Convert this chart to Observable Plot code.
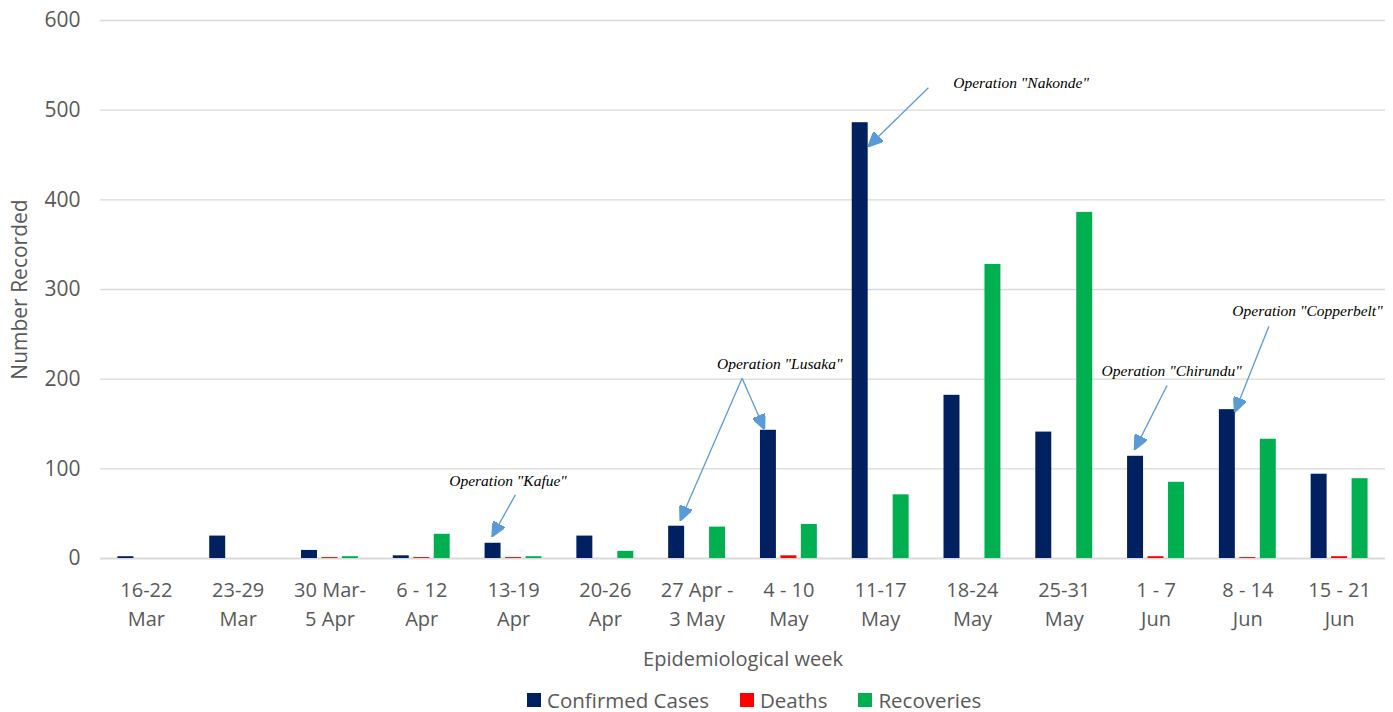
<!DOCTYPE html>
<html>
<head>
<meta charset="utf-8">
<script src="https://cdn.jsdelivr.net/npm/d3@7"></script>
<script src="https://cdn.jsdelivr.net/npm/@observablehq/plot@0.6"></script>
<style>
  html, body { margin: 0; padding: 0; background: #fff; }
  #chart svg { display: block; }
  .lg-swatches { font-family: "Open Sans", sans-serif !important; font-size: 20.5px !important; color: #595959;
    display: flex; align-items: center; min-height: 28px; margin: 4px 0 0 0 !important; padding-left: 527px; }
  .lg-swatch { display: inline-flex; align-items: center; margin-right: 31px !important; }
  .lg-swatch > svg { margin-right: 6px !important; }
</style>
</head>
<body>
<div id="chart"></div>
<script>
const weeks = ["16-22\nMar", "23-29\nMar", "30 Mar-\n5 Apr", "6 - 12\nApr", "13-19\nApr", "20-26\nApr",
  "27 Apr -\n3 May", "4 - 10\nMay", "11-17\nMay", "18-24\nMay", "25-31\nMay", "1 - 7\nJun", "8 - 14\nJun", "15 - 21\nJun"];
const seriesNames = ["Confirmed Cases", "Deaths", "Recoveries"];
const seriesColors = ["#002060", "#FF0000", "#00B050"];
const confirmed = [2, 25, 9, 3, 17, 25, 36, 143, 486, 182, 141, 114, 166, 94];
const deaths = [0, 0, 1, 1, 1, 0, 0, 3, 0, 0, 0, 2, 1, 2];
const recoveries = [0, 0, 2, 27, 2, 8, 35, 38, 71, 328, 386, 85, 133, 89];
const yTicks = [0, 100, 200, 300, 400, 500, 600];

// annotations in data units (week index, count)
const annoLabels = ['Operation "Kafue"', 'Operation "Lusaka"', 'Operation "Nakonde"', 'Operation "Chirundu"', 'Operation "Copperbelt"'];
const annoTextX = [3.94, 6.90, 9.53, 11.17, 12.65];
const annoTextY = [86, 217, 530, 209, 276];
const arrowAnno = [0, 1, 1, 2, 3, 4];
const arrowX1 = [4.02, 6.49, 6.49, 8.52, 11.12, 12.23];
const arrowY1 = [71, 201, 201, 525, 193, 259];
const arrowX2 = [3.77, 5.82, 6.73, 7.87, 10.77, 11.86];
const arrowY2 = [25, 43, 145, 460, 122, 164];

const seriesValues = [confirmed, deaths, recoveries];
const offsets = [-0.223, 0, 0.223];
const halfBar = 0.087;
const rows = [];
seriesNames.forEach((s, k) => seriesValues[k].forEach((v, i) => rows.push({i, series: s, k, value: v})));
const annos = annoLabels.map((label, j) => ({label, x: annoTextX[j], y: annoTextY[j]}));
const arrows = arrowAnno.map((a, j) => ({x1: arrowX1[j], y1: arrowY1[j], x2: arrowX2[j], y2: arrowY2[j]}));

function triangleMarker(color, context) {
  const doc = (context && context.document) || document;
  const ns = "http://www.w3.org/2000/svg";
  const m = doc.createElementNS(ns, "marker");
  m.setAttribute("viewBox", "0 -6 14 12");
  m.setAttribute("refX", "13");
  m.setAttribute("refY", "0");
  m.setAttribute("markerUnits", "userSpaceOnUse");
  m.setAttribute("markerWidth", "15");
  m.setAttribute("markerHeight", "13");
  m.setAttribute("orient", "auto");
  const p = doc.createElementNS(ns, "path");
  p.setAttribute("d", "M0,-6.5L14,0L0,6.5Z");
  p.setAttribute("fill", color);
  m.appendChild(p);
  return m;
}

const font = "'Open Sans', sans-serif";
const plot = Plot.plot({
  width: 1393,
  height: 682,
  marginLeft: 100,
  marginRight: 8,
  marginTop: 20,
  marginBottom: 124,
  style: {fontFamily: font, color: "#595959", background: "#fff"},
  x: {domain: [-0.5, 13.5], axis: null},
  y: {domain: [0, 600], axis: null},
  color: {domain: seriesNames, range: seriesColors},
  marks: [
    Plot.gridY(yTicks.slice(1), {stroke: "#d9d9d9", strokeOpacity: 1, strokeWidth: 1.3}),
    Plot.ruleY([0], {stroke: "#d9d9d9", strokeWidth: 2}),
    Plot.rectY(rows, {
      x1: d => d.i + offsets[d.k] - halfBar,
      x2: d => d.i + offsets[d.k] + halfBar,
      y1: 0, y2: "value", fill: "series"
    }),
    Plot.axisY({ticks: yTicks, tickSize: 0, tickPadding: 20, fontSize: 21, fill: "#595959",
      label: "Number Recorded", labelAnchor: "center", labelOffset: 88, labelArrow: "none"}),
    Plot.axisX({ticks: d3.range(weeks.length), tickFormat: i => weeks[i], tickSize: 0, tickPadding: 18,
      fontSize: 20, lineHeight: 1.45, fill: "#595959",
      label: "Epidemiological week", labelAnchor: "center", labelOffset: 107, labelArrow: "none"}),
    Plot.link(arrows, {x1: "x1", y1: "y1", x2: "x2", y2: "y2", stroke: "#5B9BD5", strokeWidth: 1.3,
      markerEnd: triangleMarker}),
    Plot.text(annos, {x: "x", y: "y", text: "label", fontFamily: "'Liberation Serif', serif",
      fontStyle: "italic", fontSize: 15.5, fill: "#000"})
  ]
});
document.getElementById("chart").appendChild(plot);
const legend = plot.legend("color", {swatchSize: 14, className: "lg"});
document.getElementById("chart").appendChild(legend);
</script>
</body>
</html>
